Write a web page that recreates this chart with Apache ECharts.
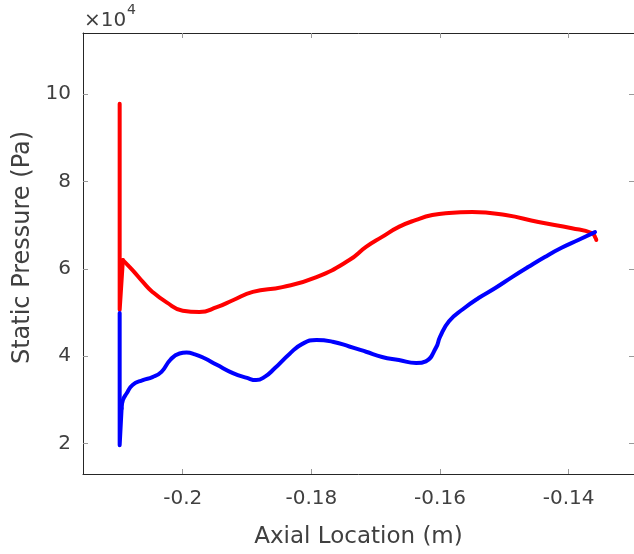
<!DOCTYPE html>
<html>
<head>
<meta charset="utf-8">
<script src="https://cdn.jsdelivr.net/npm/echarts@6/dist/echarts.min.js"></script>
<style>
html,body{margin:0;padding:0;background:#fff;}
#chart{width:634px;height:554px;}
</style>
</head>
<body>
<div id="chart"></div>
<script>
// Axial location (m) and static pressure (Pa)
var redX = [-0.2098, -0.2098, -0.2093, -0.2078, -0.2062, -0.2047, -0.2025, -0.2000, -0.1974, -0.1947, -0.1922, -0.1891, -0.1845, -0.1792, -0.1741, -0.1715, -0.1690, -0.1664, -0.1637, -0.1612, -0.1586, -0.1550, -0.1498, -0.1447, -0.1395, -0.1364, -0.1358, -0.1357];
var redY = [97800, 50600, 62000, 59700, 57000, 54700, 52300, 50400, 50100, 51200, 52800, 54700, 55800, 58100, 62000, 65000, 67300, 69600, 71200, 72300, 72800, 73000, 72300, 70700, 69300, 68200, 67000, 66600];
var blueX = [-0.2098, -0.2098, -0.2095, -0.2093, -0.2087, -0.2078, -0.2062, -0.2047, -0.2033, -0.2019, -0.2005, -0.1994, -0.1981, -0.1966, -0.1947, -0.1922, -0.1900, -0.1886, -0.1872, -0.1857, -0.1834, -0.1814, -0.1792, -0.1767, -0.1741, -0.1715, -0.1690, -0.1664, -0.1637, -0.1622, -0.1606, -0.1600, -0.1586, -0.1564, -0.1540, -0.1514, -0.1488, -0.1463, -0.1437, -0.1411, -0.1385, -0.1359];
var blueY = [49900, 19600, 28000, 29900, 31500, 33400, 34500, 35200, 36400, 39200, 40600, 40800, 40400, 39500, 38000, 36100, 35000, 34500, 35300, 37200, 40500, 42800, 43700, 43300, 42200, 41000, 39800, 39100, 38400, 38800, 42000, 44400, 48000, 50800, 53300, 55600, 58100, 60400, 62700, 64800, 66600, 68400];
var xTicks = [-0.2, -0.18, -0.16, -0.14];
var yTicks = [20000, 40000, 60000, 80000, 100000];

function pairs(xs, ys, from, to){
  var out = [];
  for (var i = from; i < (to === undefined ? xs.length : to); i++) out.push([xs[i], ys[i]]);
  return out;
}

var chart = echarts.init(document.getElementById('chart'), null, {renderer:'canvas'});
var axisColor = '#262626';
var labelColor = '#404040';
var font = 'DejaVu Sans, sans-serif';
var xMin = -0.2155, xMax = -0.12984, yMin = 13000, yMax = 114000;
var tickStyle = {color: '#999', width: 1};

function lineSeries(data, color, smooth){
  return {
    type: 'line', data: data, showSymbol: false, symbol: 'none', smooth: smooth,
    lineStyle: {color: color, width: 4, join: 'round', cap: 'round'}
  };
}

chart.setOption({
  animation: false,
  backgroundColor: '#fff',
  grid: {left: 83, top: 33, bottom: 80, right: -1.5, containLabel: false},
  xAxis: [{
    type: 'value', min: xMin, max: xMax, position: 'bottom',
    name: 'Axial Location (m)', nameLocation: 'middle', nameGap: 52,
    nameTextStyle: {fontFamily: font, fontSize: 23, color: labelColor},
    axisLine: {show: true, onZero: false, lineStyle: {color: axisColor, width: 1}},
    axisTick: {show: true, inside: true, length: 5, customValues: xTicks, lineStyle: tickStyle},
    axisLabel: {show: true, customValues: xTicks, margin: 15, fontFamily: font, fontSize: 20, color: labelColor,
      formatter: function(v){ return String(Math.round(v*100)/100); }},
    splitLine: {show: false}
  }, {
    type: 'value', min: xMin, max: xMax, position: 'top',
    axisLine: {show: true, onZero: false, lineStyle: {color: axisColor, width: 1}},
    axisTick: {show: true, inside: true, length: 5, customValues: xTicks, lineStyle: tickStyle},
    axisLabel: {show: false}, splitLine: {show: false}
  }],
  yAxis: [{
    type: 'value', min: yMin, max: yMax, position: 'left',
    name: 'Static Pressure (Pa)', nameLocation: 'middle', nameGap: 45,
    nameTextStyle: {fontFamily: font, fontSize: 24, color: labelColor, padding: [0, 0, 0, 12]},
    axisLine: {show: true, onZero: false, lineStyle: {color: axisColor, width: 1}},
    axisTick: {show: true, inside: true, length: 5, customValues: yTicks, lineStyle: tickStyle},
    axisLabel: {show: true, customValues: yTicks, margin: 12, fontFamily: font, fontSize: 20, color: labelColor,
      formatter: function(v){ return String(v/10000); }},
    splitLine: {show: false}
  }, {
    type: 'value', min: yMin, max: yMax, position: 'right',
    axisLine: {show: false},
    axisTick: {show: true, inside: true, length: 5, customValues: yTicks, lineStyle: tickStyle},
    axisLabel: {show: false}, splitLine: {show: false}
  }],
  graphic: [{
    type: 'text', left: 84, top: 11,
    style: {text: '×10', fontFamily: font, fontSize: 20, fill: labelColor}
  }, {
    type: 'text', left: 127, top: 3,
    style: {text: '4', fontFamily: font, fontSize: 14, fill: labelColor}
  }],
  series: [
    lineSeries(pairs(redX, redY, 0, 3), '#ff0000', false),
    lineSeries(pairs(redX, redY, 2), '#ff0000', 0.5),
    lineSeries(pairs(blueX, blueY, 0, 3), '#0000ff', false),
    lineSeries(pairs(blueX, blueY, 2), '#0000ff', 0.5)
  ]
});
</script>
</body>
</html>
